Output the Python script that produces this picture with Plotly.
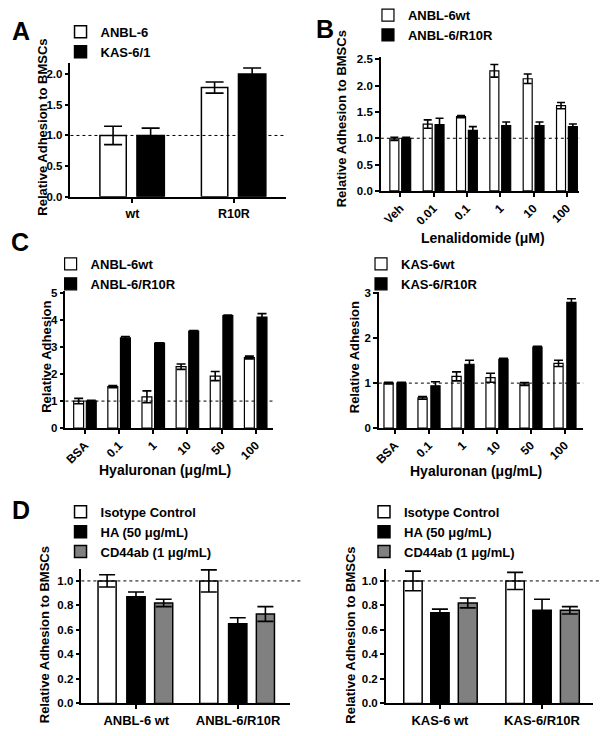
import plotly.graph_objects as go

W, H = 602, 736
FONT = "Liberation Sans, Arial, Helvetica, sans-serif"

# ---------------- data ----------------
# Panel A
a_cats = ["wt", "R10R"]
a_anbl6 = [1.0, 1.78]
a_anbl6_err = [0.15, 0.09]
a_kas61 = [1.0, 2.0]
a_kas61_err = [0.12, 0.10]

# Panel B
b_cats = ["Veh", "0.01", "0.1", "1", "10", "100"]
b_wt = [0.99, 1.27, 1.41, 2.28, 2.13, 1.62]
b_wt_err = [0.03, 0.08, 0.02, 0.12, 0.09, 0.06]
b_r10r = [1.0, 1.26, 1.15, 1.24, 1.24, 1.22]
b_r10r_err = [0.02, 0.12, 0.07, 0.07, 0.07, 0.05]

# Panel C (left: ANBL-6, right: KAS-6)
c_cats = ["BSA", "0.1", "1", "10", "50", "100"]
c1_wt = [1.0, 1.54, 1.16, 2.28, 1.93, 2.62]
c1_wt_err = [0.10, 0.04, 0.22, 0.10, 0.17, 0.05]
c1_r10r = [1.0, 3.35, 3.15, 3.60, 4.18, 4.12]
c1_r10r_err = [0.03, 0.05, 0.02, 0.02, 0.02, 0.13]
c2_wt = [1.0, 0.67, 1.15, 1.12, 0.98, 1.44]
c2_wt_err = [0.02, 0.03, 0.10, 0.10, 0.03, 0.07]
c2_r10r = [1.0, 0.94, 1.42, 1.53, 1.80, 2.80]
c2_r10r_err = [0.02, 0.09, 0.09, 0.02, 0.02, 0.08]

# Panel D
d1_cats = ["ANBL-6 wt", "ANBL-6/R10R"]
d1_iso = [1.0, 1.0]
d1_iso_err = [0.05, 0.09]
d1_ha = [0.87, 0.65]
d1_ha_err = [0.04, 0.05]
d1_cd44 = [0.82, 0.73]
d1_cd44_err = [0.03, 0.06]
d2_cats = ["KAS-6 wt", "KAS-6/R10R"]
d2_iso = [1.0, 1.0]
d2_iso_err = [0.08, 0.07]
d2_ha = [0.74, 0.76]
d2_ha_err = [0.03, 0.09]
d2_cd44 = [0.82, 0.76]
d2_cd44_err = [0.04, 0.03]

GRAY = "rgb(128,128,128)"


def px(x):
    return x / W


def py(y):
    return 1 - y / H


fig = go.Figure()


def add_bar(cats, vals, errs, name, color, ax, leg, off, wid, cap, lw=1.5):
    fig.add_trace(go.Bar(
        x=cats, y=vals, name=name,
        marker=dict(color=color, line=dict(color="black", width=lw)),
        error_y=dict(type="data", array=errs, visible=True, color="black",
                     thickness=1.6, width=cap),
        offset=off, width=wid,
        xaxis="x" + ax, yaxis="y" + ax, legend=leg, showlegend=True,
    ))


# A
add_bar(a_cats, a_anbl6, a_anbl6_err, "ANBL-6", "white", "", "legend", -0.32, 0.26, 9)
add_bar(a_cats, a_kas61, a_kas61_err, "KAS-6/1", "black", "", "legend", 0.045, 0.27, 9)
# B
add_bar(b_cats, b_wt, b_wt_err, "ANBL-6wt", "white", "2", "legend2", -0.31, 0.27, 4, 1.2)
add_bar(b_cats, b_r10r, b_r10r_err, "ANBL-6/R10R", "black", "2", "legend2", 0.045, 0.27, 4, 1.2)
# C left
add_bar(c_cats, c1_wt, c1_wt_err, "ANBL-6wt", "white", "3", "legend3", -0.33, 0.29, 4.5, 1.2)
add_bar(c_cats, c1_r10r, c1_r10r_err, "ANBL-6/R10R", "black", "3", "legend3", 0.04, 0.29, 4.5, 1.2)
# C right
add_bar(c_cats, c2_wt, c2_wt_err, "KAS-6wt", "white", "4", "legend4", -0.32, 0.27, 4.5, 1.2)
add_bar(c_cats, c2_r10r, c2_r10r_err, "KAS-6/R10R", "black", "4", "legend4", 0.06, 0.27, 4.5, 1.2)
# D left
add_bar(d1_cats, d1_iso, d1_iso_err, "Isotype Control", "white", "5", "legend5", -0.376, 0.178, 8)
add_bar(d1_cats, d1_ha, d1_ha_err, "HA (50 μg/mL)", "black", "5", "legend5", -0.093, 0.18, 8)
add_bar(d1_cats, d1_cd44, d1_cd44_err, "CD44ab (1 μg/mL)", GRAY, "5", "legend5", 0.18, 0.178, 8)
# D right
add_bar(d2_cats, d2_iso, d2_iso_err, "Isotype Control", "white", "6", "legend6", -0.354, 0.18, 8)
add_bar(d2_cats, d2_ha, d2_ha_err, "HA (50 μg/mL)", "black", "6", "legend6", -0.09, 0.18, 8)
add_bar(d2_cats, d2_cd44, d2_cd44_err, "CD44ab (1 μg/mL)", GRAY, "6", "legend6", 0.18, 0.185, 8)

common = dict(showline=True, linecolor="black", linewidth=1.5, ticks="outside",
              ticklen=4, tickwidth=1.5, tickcolor="black", showgrid=False,
              zeroline=False, fixedrange=True)


def xaxis(x0, x1, rng, anchor, angle=0, fs=12):
    d = dict(common)
    d.update(domain=[px(x0), px(x1)], range=rng, type="category", anchor=anchor,
             tickangle=angle,
             tickfont=dict(family=FONT, size=fs, color="black", weight="bold"))
    return d


def yaxis(y0, y1, rng, anchor, tickvals, fmt):
    d = dict(common)
    d.update(domain=[py(y0), py(y1)], range=rng, anchor=anchor,
             tickvals=tickvals, tickformat=fmt,
             tickfont=dict(family=FONT, size=11.5, color="black", weight="bold"))
    return d


fig.update_layout(
    xaxis=xaxis(66, 283, [-0.61, 1.51], "y", fs=12.5),
    yaxis=yaxis(194, 58, [0, 2.18], "x", [0, 0.5, 1.0, 1.5, 2.0], ".1f"),
    xaxis2=xaxis(379, 579, [-0.58, 5.37], "y2", angle=-45),
    yaxis2=yaxis(188, 52, [0, 2.54], "x2", [0, 0.5, 1.0, 1.5, 2.0, 2.5], ".1f"),
    xaxis3=xaxis(61, 270, [-0.57, 5.5], "y3", angle=-45),
    yaxis3=yaxis(429, 290, [0, 5.08], "x3", [0, 1, 2, 3, 4, 5], "d"),
    xaxis4=xaxis(377, 583, [-0.47, 5.54], "y4", angle=-45),
    yaxis4=yaxis(429, 290.7, [0, 3.03], "x4", [0, 1, 2, 3], "d"),
    xaxis5=xaxis(77, 287, [-0.54, 1.507], "y5", fs=13),
    yaxis5=yaxis(709, 572, [0, 1.1], "x5", [0, 0.2, 0.4, 0.6, 0.8, 1.0], ".1f"),
    xaxis6=xaxis(384, 593, [-0.53, 1.5], "y6", fs=13),
    yaxis6=yaxis(709, 572, [0, 1.1], "x6", [0, 0.2, 0.4, 0.6, 0.8, 1.0], ".1f"),
)

legfont = dict(family=FONT, size=13, color="black", weight="bold")


def legend(text_x, row1_y):
    return dict(x=px(text_x - 46), y=py(row1_y - 19), xanchor="left", yanchor="top",
                bgcolor="rgba(0,0,0,0)", borderwidth=0, font=legfont,
                itemclick=False, itemdoubleclick=False, tracegroupgap=0)


fig.update_layout(
    legend=legend(102, 30),
    legend2=legend(412, 13),
    legend3=legend(92, 266),
    legend4=legend(405, 266),
    legend5=legend(102, 518),
    legend6=legend(408, 518),
)

# dashed reference lines at y = 1
shapes = []
for ax, x1 in [("", 1.0), ("2", 1.0), ("3", 1.0), ("4", 1.0), ("5", 1.06), ("6", 1.04)]:
    shapes.append(dict(type="line", xref=("x" + ax + " domain"), yref=("y" + ax),
                       x0=0, x1=x1, y0=1, y1=1,
                       line=dict(color="black", width=1, dash="3px,3px"), layer="above"))
fig.update_layout(shapes=shapes)

ann = []
title_font = dict(family=FONT, size=13, color="black", weight="bold")
letter_font = dict(family=FONT, size=25, color="black", weight="bold")
for letter, x, y in [("A", 16, 25), ("B", 323, 23), ("C", 15, 240), ("D", 16, 512)]:
    ann.append(dict(text=letter, x=px(x), y=py(y), xref="paper", yref="paper",
                    xanchor="center", yanchor="middle", showarrow=False, font=letter_font))
for text, x, y in [("Relative Adhesion to BMSCs", 38, 123),
                   ("Relative Adhesion to BMSCs", 339, 115),
                   ("Relative Adhesion", 42, 357),
                   ("Relative Adhesion", 352, 357),
                   ("Relative Adhesion to BMSCs", 40, 639),
                   ("Relative Adhesion to BMSCs", 348, 640)]:
    ann.append(dict(text=text, x=px(x), y=py(y), xref="paper", yref="paper",
                    xanchor="center", yanchor="middle", showarrow=False,
                    textangle=-90, font=title_font))
for text, x, y in [("Lenalidomide (μM)", 482, 236),
                   ("Hyaluronan (μg/mL)", 161, 472),
                   ("Hyaluronan (μg/mL)", 475, 473)]:
    ann.append(dict(text=text, x=px(x), y=py(y), xref="paper", yref="paper",
                    xanchor="center", yanchor="middle", showarrow=False,
                    font=dict(family=FONT, size=14, color="black", weight="bold")))
fig.update_layout(annotations=ann)

fig.update_layout(
    width=W, height=H, margin=dict(l=0, r=0, t=0, b=0),
    paper_bgcolor="white", plot_bgcolor="white",
    font=dict(family=FONT, color="black"),
)

fig.write_html("out.html", config={"displayModeBar": False},
               post_script="document.body.style.margin='0px';document.body.style.overflow='hidden';")
